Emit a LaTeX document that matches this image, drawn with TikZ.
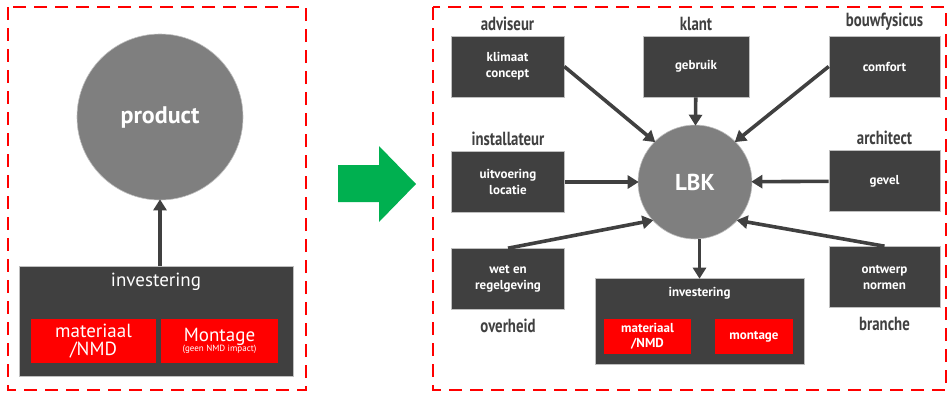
\documentclass[tikz,border=0pt]{standalone}
\usepackage{fontspec}
\setmainfont{PT Sans}
\newfontfamily\condfont[FakeStretch=0.78]{PT Sans}
\usepackage{tikz}
\usetikzlibrary{positioning,arrows.meta}

\definecolor{boxgray}{HTML}{404040}
\definecolor{circgray}{HTML}{7F7F7F}
\definecolor{edgegray}{HTML}{BFBFBF}
\definecolor{arrowgreen}{HTML}{00B050}
\definecolor{framered}{HTML}{FF0000}

\tikzset{
  darkbox/.style={draw=edgegray, line width=0.6pt, fill=boxgray, text=white, align=center,
    font=\bfseries\fontsize{13}{16}\selectfont, minimum width=113pt, minimum height=61pt, inner sep=0pt},
  redbox/.style={fill=framered, text=white, align=center, inner sep=0pt},
  bigcircle/.style={circle, draw=edgegray, line width=0.6pt, fill=circgray, text=white, inner sep=0pt},
  role/.style={text=boxgray, font=\condfont\bfseries\fontsize{19}{19}\selectfont, inner sep=0pt},
  arr/.style={draw=boxgray, line width=3.6pt, -{Triangle[length=11pt,width=13pt]}, shorten >=-1pt},
  frame/.style={draw=framered, line width=2.5pt, dash pattern=on 13pt off 8pt}
}

\begin{document}
\begin{tikzpicture}[x=1pt, y=-1pt]
    \useasboundingbox (0,0) rectangle (951,392);

    % Left: current situation
    \draw[frame] (8,7) rectangle (306,390);
    \node (product) [bigcircle, minimum size=166pt, font=\bfseries\fontsize{24}{24}\selectfont] at (160,117) {product};
    \node (inv) [darkbox, minimum width=274pt, minimum height=110pt,
        label={[anchor=north, yshift=-4pt, text=white, font=\fontsize{19}{19}\selectfont]north:investering}] at (156,321) {};
    \node (mat) [redbox, minimum width=125pt, minimum height=44pt, font=\fontsize{19}{18}\selectfont] at (93.5,341) {materiaal\\/NMD};
    \node (mont) [redbox, minimum width=117pt, minimum height=44pt] at (219.5,341)
        {{\fontsize{19}{19}\selectfont Montage}\\[-2pt]{\fontsize{9}{9}\selectfont (geen NMD impact)}};
    \draw[arr] (inv.north -| product) -- (product);

    % Green arrow
    \fill[arrowgreen] (338,165) -- (379,165) -- (379,146) -- (416,184) -- (379,222) -- (379,202) -- (338,202) -- cycle;

    % Right: LBK with stakeholders
    \draw[frame] (433,7) rectangle (946,390);
    \node (lbk) [bigcircle, minimum size=114pt, font=\bfseries\fontsize{23}{23}\selectfont] at (695,182) {LBK};

    \node (klimaat) [darkbox] at (507.5,66.5) {klimaat\\concept};
    \node (gebruik) [darkbox, minimum width=106pt] at (696,66.5) {gebruik};
    \node (comfort) [darkbox, minimum width=111pt] at (884.5,66.5) {comfort};
    \node (uitvoering) [darkbox] at (508,182) {uitvoering\\locatie};
    \node (gevel) [darkbox, minimum width=111pt] at (884.5,181) {gevel};
    \node (wet) [darkbox] at (508,279) {wet en\\regelgeving};
    \node (ontwerp) [darkbox, minimum width=111pt] at (884.5,277) {ontwerp\\normen};

    \node (adviseur) [role, above=5pt of klimaat] {adviseur};
    \node (klant) [role, above=5pt of gebruik] {klant};
    \node (bouwfysicus) [role, above=5pt of comfort] {bouwfysicus};
    \node (installateur) [role, above=5pt of uitvoering] {installateur};
    \node (architect) [role, above=5pt of gevel] {architect};
    \node (overheid) [role, below=9pt of wet] {overheid};
    \node (branche) [role, below=9pt of ontwerp] {branche};

    \node (inv2) [darkbox, minimum width=209pt, minimum height=86pt,
        label={[anchor=north, yshift=-6pt, text=white, font=\bfseries\fontsize{13}{13}\selectfont]north:investering}] at (699.5,321) {};
    \node (mat2) [redbox, minimum width=87pt, minimum height=35pt, font=\bfseries\fontsize{13}{15}\selectfont] at (647.5,336.5) {materiaal\\/NMD};
    \node (mont2) [redbox, minimum width=78pt, minimum height=35pt, font=\bfseries\fontsize{13}{15}\selectfont] at (754,336.5) {montage};

    % Arrows
    \draw[arr] (klimaat.east) -- (lbk.135);
    \draw[arr] (gebruik) -- (lbk);
    \draw[arr] (comfort.west) -- (lbk.45);
    \draw[arr] (uitvoering) -- (lbk);
    \draw[arr] (gevel) -- (lbk);
    \draw[arr] (wet.north) -- (lbk.222);
    \draw[arr] (ontwerp.north) -- (lbk.318);
    \draw[arr] (lbk.south -| inv2) -- (inv2);

\end{tikzpicture}
\end{document}
